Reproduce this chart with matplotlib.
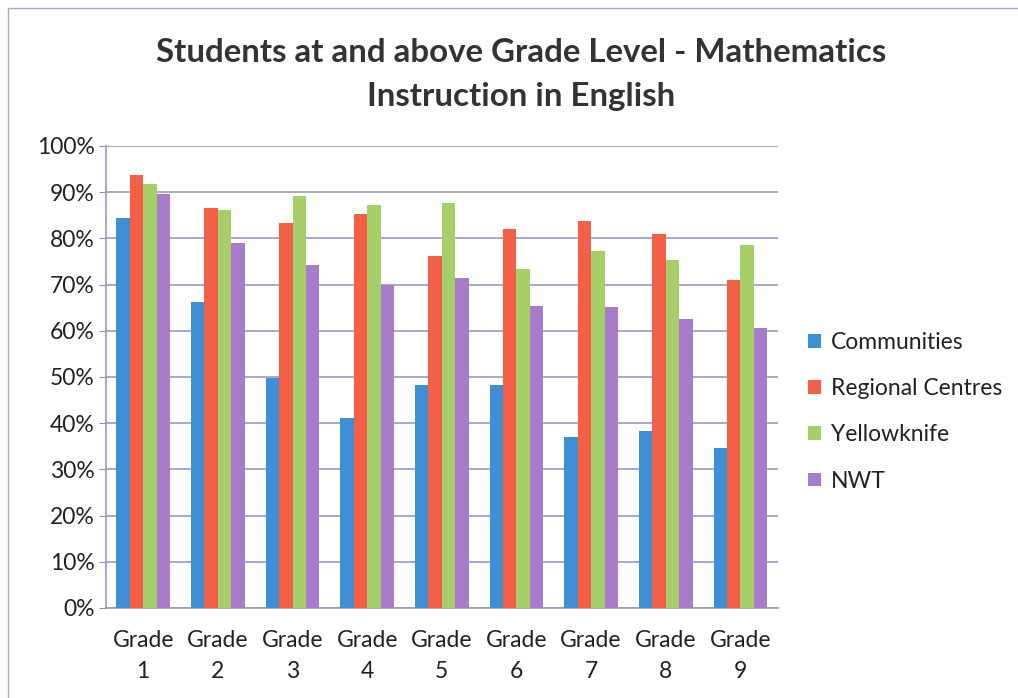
import matplotlib
matplotlib.use("Agg")
import matplotlib.pyplot as plt
import numpy as np
from matplotlib.patches import Rectangle

categories = ["Grade\n1", "Grade\n2", "Grade\n3", "Grade\n4", "Grade\n5",
              "Grade\n6", "Grade\n7", "Grade\n8", "Grade\n9"]
communities = [84.4, 66.3, 49.7, 41.2, 48.3, 48.3, 36.9, 38.4, 34.6]
regional = [93.7, 86.6, 83.4, 85.2, 76.1, 82.0, 83.7, 81.0, 70.9]
yellowknife = [91.8, 86.1, 89.2, 87.1, 87.7, 73.4, 77.3, 75.4, 78.5]
nwt = [89.5, 78.9, 74.2, 70.0, 71.5, 65.4, 65.1, 62.5, 60.5]
series_names = ["Communities", "Regional Centres", "Yellowknife", "NWT"]
colors = ["#3E8FD5", "#F45F47", "#A6CF6A", "#A87BCB"]

plt.rcParams['font.family'] = ['Lato', 'DejaVu Sans']

fig = plt.figure(figsize=(10.18, 6.98), dpi=100)
ax = fig.add_axes([0.104, 0.129, 0.660, 0.662])

x = np.arange(len(categories))
w = 0.18
data = [communities, regional, yellowknife, nwt]
for i, (vals, name, c) in enumerate(zip(data, series_names, colors)):
    ax.bar(x + (i - 1.5) * w, vals, width=w, color=c, label=name, zorder=3)

ax.set_xlim(-0.5, len(categories) - 0.5)
ax.set_ylim(0, 100)
ax.set_yticks(np.arange(0, 101, 10))
ax.set_yticklabels([f"{v}%" for v in range(0, 101, 10)], fontsize=16.5, color="#222222")
ax.set_xticks(x)
ax.set_xticklabels(categories, fontsize=16.5, color="#222222", linespacing=1.55)
ax.tick_params(axis='x', length=0, pad=16)
ax.tick_params(axis='y', length=5, color="#9090B0", pad=3)
ax.grid(axis='y', color="#9A99C2", linewidth=1.2, zorder=0)
for s in ["top", "right"]:
    ax.spines[s].set_visible(False)
for s in ["left", "bottom"]:
    ax.spines[s].set_color("#9A99C2")
    ax.spines[s].set_linewidth(1.2)

fig.text(0.512, 0.925, "Students at and above Grade Level - Mathematics",
         ha="center", va="center", fontsize=23.8, fontweight="bold", color="#333333")
fig.text(0.512, 0.862, "Instruction in English",
         ha="center", va="center", fontsize=23.8, fontweight="bold", color="#333333")

leg = fig.legend(loc="center left", bbox_to_anchor=(0.794, 0.41), frameon=False,
                 fontsize=16.5, handlelength=0.55, handleheight=0.55, handletextpad=0.45,
                 labelspacing=1.1, borderaxespad=0, borderpad=0)
for t in leg.get_texts():
    t.set_color("#222222")

fig.patches.append(Rectangle((0.008, -0.01), 1.0, 0.998, transform=fig.transFigure,
                             fill=False, edgecolor="#A8A8C8", linewidth=1.0))

fig.savefig("out.png", dpi=100)
